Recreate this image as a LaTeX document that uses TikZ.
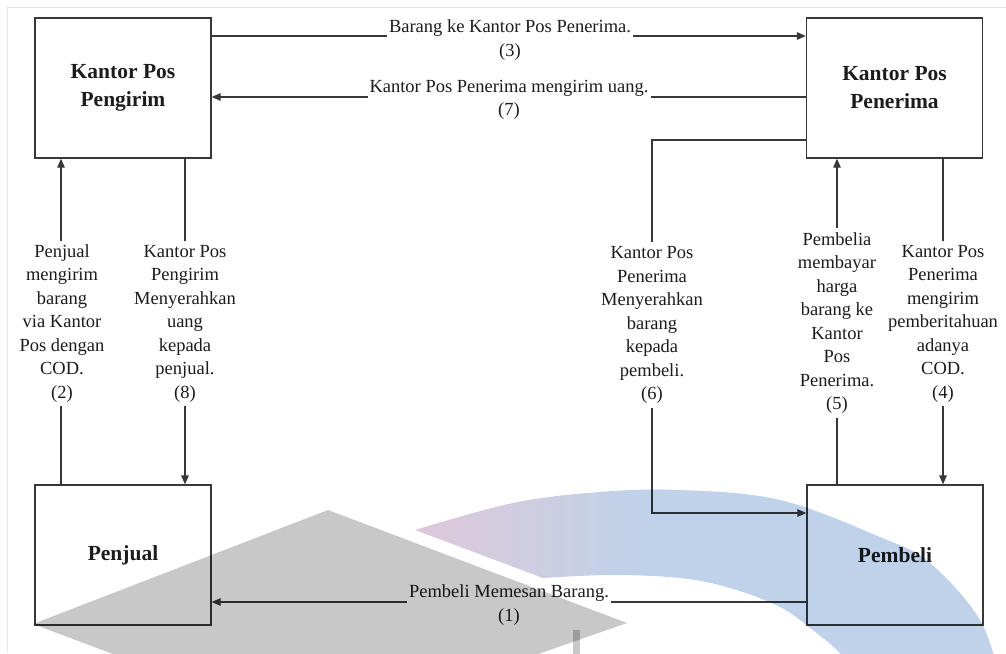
\documentclass[tikz,border=0pt]{standalone}
\usepackage{fontspec}
\setmainfont{Liberation Serif}
\usetikzlibrary{arrows.meta}
\definecolor{ink}{HTML}{1C1C1C}
\definecolor{wire}{HTML}{383838}
\definecolor{framegray}{HTML}{E4E4E4}
\definecolor{capgray}{HTML}{C8C8C8}
\definecolor{arcpink}{HTML}{DDC8D8}
\definecolor{arcblue}{HTML}{BFD2EA}
\pgfdeclarehorizontalshading{arcfade}{100bp}{color(0bp)=(arcpink); color(25bp)=(arcpink); color(44.5bp)=(arcblue); color(100bp)=(arcblue)}
\tikzset{
  entity/.style={draw=wire, line width=1.3pt, minimum width=176pt, minimum height=140pt,
    align=center, text=ink, font=\bfseries\fontsize{21.5}{28}\selectfont},
  flow/.style={draw=wire, line width=1.2pt},
  arr/.style={flow, -{Triangle[length=9pt,width=7.5pt]}},
  lbl/.style={fill=white, align=center, text=ink, inner xsep=2pt, inner ysep=4pt,
    font=\fontsize{18.5}{23.5}\selectfont}
}
\begin{document}
\begin{tikzpicture}[x=1pt,y=-1pt]
\useasboundingbox (0,0) rectangle (1006,653);
% faint page edge
\draw[framegray, line width=1pt] (1006,7) -- (7,7) -- (7,653);

% entities
\node[entity] (kpp) at (123,88)  {Kantor Pos\\Pengirim};
\node[entity] (kpn) at (894.5,88) {Kantor Pos\\Penerima};
\node[entity] (pj)  at (123,555) {Penjual};
\node[entity] (pb)  at (895,555) {Pembeli};

% bend points of flow (6)
\coordinate (c6a) at (652,140);
\coordinate (c6b) at (652,513);

% flows
\draw[arr] (kpp.east |- 0,36) -- (kpn.west |- 0,36);
\draw[arr] (kpn.west |- 0,97) -- (kpp.east |- 0,97);
\draw[arr] (pb.west |- 0,602) -- (pj.east |- 0,602);
\draw[arr] (pj.north -| 61,0) -- (kpp.south -| 61,0);
\draw[arr] (kpp.south -| 185,0) -- (pj.north -| 185,0);
\draw[arr] (kpn.west |- c6a) -- (c6a) -- (c6b) -- (pb.west |- c6b);
\draw[arr] (pb.north -| 837,0) -- (kpn.south -| 837,0);
\draw[arr] (kpn.south -| 943,0) -- (pb.north -| 943,0);

% flow labels
\node[lbl] (l3) at (510,40)  {Barang ke Kantor Pos Penerima.\\(3)};
\node[lbl] (l7) at (509,100) {Kantor Pos Penerima mengirim uang.\\(7)};
\node[lbl] (l1) at (509,605) {Pembeli Memesan Barang.\\(1)};
\node[lbl] (l2) at (62,323.5)  {Penjual\\mengirim\\barang\\via Kantor\\Pos dengan\\COD.\\(2)};
\node[lbl] (l8) at (185,323.5) {Kantor Pos\\Pengirim\\Menyerahkan\\uang\\kepada\\penjual.\\(8)};
\node[lbl] (l6) at (652,325)   {Kantor Pos\\Penerima\\Menyerahkan\\barang\\kepada\\pembeli.\\(6)};
\node[lbl] (l5) at (837,323)   {Pembelia\\membayar\\harga\\barang ke\\Kantor\\Pos\\Penerima.\\(5)};
\node[lbl] (l4) at (943,323.5) {Kantor Pos\\Penerima\\mengirim\\pemberitahuan\\adanya\\COD.\\(4)};

% emblem printed over the page: mortarboard and swoosh
\begin{scope}[blend mode=multiply]
  \clip (0,0) rectangle (1006,653);
  \fill[capgray] (328,510) -- (627,623) -- (318,731) -- (33,624) -- cycle;
  \fill[capgray] (573,630) rectangle (580,660);
  \begin{scope}
    \clip (415,530) -- plot[smooth, tension=0.6] coordinates
      {(415,530) (513,503) (600,492) (680,490) (780,500) (880,537) (930,563) (980,620) (1000,680)}
      -- (860,680) -- plot[smooth, tension=0.6] coordinates
      {(860,680) (840,653) (810,628) (780,607) (730,588) (680,578) (610,575) (543,578)}
      -- cycle;
    \shade[shading=arcfade] (415,470) rectangle (1006,700);
  \end{scope}
\end{scope}
\end{tikzpicture}
\end{document}
